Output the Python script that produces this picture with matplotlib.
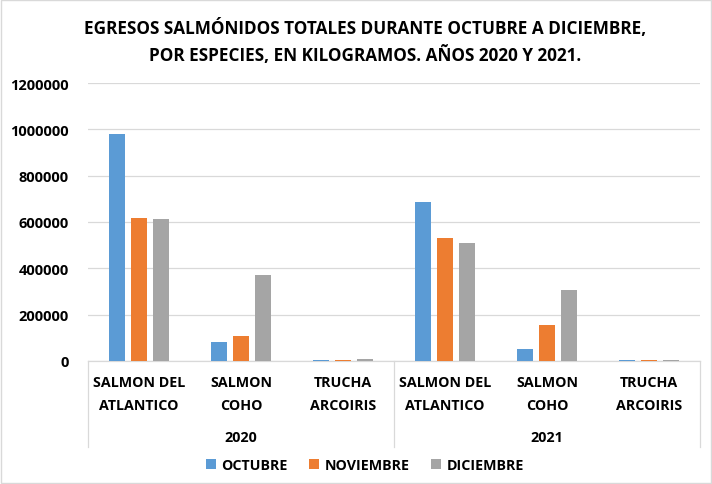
import matplotlib
matplotlib.use("Agg")
import matplotlib.pyplot as plt
import numpy as np
from matplotlib.patches import Rectangle
from matplotlib.lines import Line2D

years = ["2020", "2021"]
species = ["SALMON DEL\nATLANTICO", "SALMON\nCOHO", "TRUCHA\nARCOIRIS"]
months = ["OCTUBRE", "NOVIEMBRE", "DICIEMBRE"]

octubre = [980000, 82000, 3000, 687000, 52000, 3000]
noviembre = [617000, 108000, 3000, 531000, 155000, 3000]
diciembre = [615000, 371000, 7000, 510000, 307000, 3000]

colors = ["#5B9BD5", "#ED7D31", "#A5A5A5"]
yticks = [0, 200000, 400000, 600000, 800000, 1000000, 1200000]

plt.rcParams["font.family"] = ["Open Sans", "DejaVu Sans"]
plt.rcParams["font.weight"] = "bold"

fig = plt.figure(figsize=(7.12, 4.85), dpi=100)
ax = fig.add_axes([88 / 712, 1 - 362 / 485, 612 / 712, (362 - 84) / 485])

x = np.arange(6)
step = 0.216
width = 0.157
for i, (vals, name) in enumerate(zip([octubre, noviembre, diciembre], months)):
    ax.bar(x + (i - 1) * step, vals, width, color=colors[i], label=name, zorder=3)

ax.set_xlim(-0.5, 5.5)
ax.set_ylim(0, 1200000)
ax.set_yticks(yticks)
ax.set_yticklabels([str(v) for v in yticks], fontsize=10.5, fontweight="bold")
ax.yaxis.grid(True, color="#D9D9D9", linewidth=0.9, zorder=0)
ax.tick_params(axis="y", length=0, pad=14)
ax.set_xticks([])
for s in ["top", "right", "left"]:
    ax.spines[s].set_visible(False)
ax.spines["bottom"].set_color("#D9D9D9")
ax.spines["bottom"].set_linewidth(0.9)

# category labels
labels = species * 2
for xi, lab in zip(x, labels):
    ax.text(xi, -0.117, lab, transform=ax.get_xaxis_transform(), ha="center", va="center",
            fontsize=10.3, fontweight="bold", linespacing=1.75)
for k, yr in enumerate(years):
    ax.text(1 + 3 * k, -0.272, yr, transform=ax.get_xaxis_transform(), ha="center",
            va="center", fontsize=10.3, fontweight="bold")
for xs in [-0.5, 2.5, 5.5]:
    ax.add_line(Line2D([xs, xs], [0, -0.31], transform=ax.get_xaxis_transform(),
                       color="#D9D9D9", linewidth=0.9, clip_on=False))

fig.text(365 / 712, 1 - 42 / 485,
         "EGRESOS SALMÓNIDOS TOTALES DURANTE OCTUBRE A DICIEMBRE,\nPOR ESPECIES, EN KILOGRAMOS. AÑOS 2020 Y 2021.",
         ha="center", va="center", fontsize=12.3, fontweight="bold", linespacing=1.5)

fig.legend(loc="center", bbox_to_anchor=(365 / 712, 1 - 466 / 485), ncol=3, frameon=False,
           handlelength=0.7, handleheight=0.7, handletextpad=0.4,
           columnspacing=1.5, prop={"weight": "bold", "size": 10.3})

fig.patches.append(Rectangle((0.002, 0.002), 0.996, 0.996, transform=fig.transFigure,
                             fill=False, edgecolor="#D9D9D9", linewidth=1))

fig.savefig("out.png", dpi=100)
